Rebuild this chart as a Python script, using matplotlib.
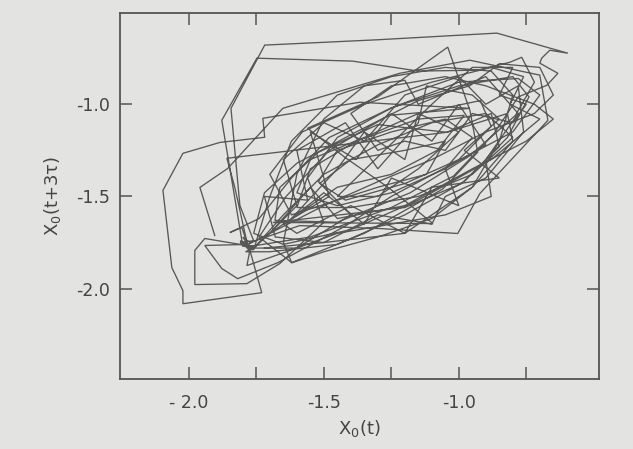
import matplotlib
matplotlib.use("Agg")
import matplotlib.pyplot as plt

# trajectory (x0(t), x0(t+3tau))
x0_t = [
    -1.904, -1.959, -1.856, -1.652, -1.219, -0.959, -0.700, -0.670, -0.922, -1.004, -1.293, -1.589, -1.774,
    -1.800, -1.770, -1.810, -1.760,
    -1.811, -1.844, -1.719, -1.300, -0.859, -0.596, -0.663, -0.693, -0.700, -0.633, -0.674, -0.780, -0.870, -1.020, -1.250, -1.550, -1.770,
    -1.941, -1.978, -1.978, -1.785, -1.663, -1.500, -1.560, -1.450, -1.250, -1.000, -0.800, -0.740, -0.820, -0.980, -1.200, -1.450, -1.700,
    -1.790, -1.750, -1.800,
    -1.878, -1.748, -1.393, -1.150, -0.930, -0.811, -0.767, -0.720, -0.790, -0.960, -1.180, -1.450, -1.681,
    -1.663, -1.520, -1.300, -1.044, -0.880, -0.850, -0.990, -1.200, -1.689, -1.096, -1.256, -1.420, -1.560, -1.300, -1.041, -0.959, -0.930, -1.060, -1.350, -1.619, -1.740,
    -1.640, -1.480, -1.260, -0.959, -1.367, -1.726, -1.719, -1.885, -2.022, -2.096, -2.063, -2.022, -2.022, -1.730, -1.780,
    -1.941, -1.878, -1.819, -1.670, -1.420, -1.250, -1.020, -0.800, -0.700, -0.780, -1.000, -1.250, -1.480, -1.620, -1.740,
    -1.848, -1.804, -1.774, -1.785, -1.600, -1.400,
    -1.520, -1.450, -1.250, -1.050, -0.950, -1.050, -1.250, -1.450,
    -1.600, -1.550, -1.350, -1.150, -0.920, -0.880, -1.000, -1.200, -1.420,
    -1.515, -1.400, -1.200, -1.050, -1.120, -1.300,
    -1.620, -1.700, -1.580, -1.350, -1.100, -0.880, -0.760, -0.810, -0.700, -0.880, -1.150, -1.400, -1.650,
    -1.760, -1.720, -1.600, -1.380, -1.150, -0.960, -0.850, -0.700, -0.650, -0.720, -0.900, -1.100, -1.300, -1.500, -1.700,
    -1.760, -1.810, -1.770, -1.795, -1.765,
    -1.650, -1.500, -1.300, -1.100, -0.900, -0.800, -0.950, -1.150, -1.400, -1.600,
    -1.550, -1.380, -1.150, -0.980, -1.080, -1.250, -1.450,
    -1.700, -1.600, -1.650, -1.500, -1.350, -1.200, -1.000, -0.900, -0.780, -0.760, -0.900, -1.050, -1.100, -1.300, -1.500, -1.680,
    -1.720, -1.560, -1.600, -1.420, -1.300, -1.150, -1.120, -0.950, -0.850, -0.980, -0.850, -1.100, -1.200, -1.400, -1.600,
    -1.650, -1.480, -1.550, -1.380, -1.250, -1.100, -1.000, -0.900, -1.050, -1.000, -1.250, -1.350, -1.500, -1.620,
    -1.450, -1.350, -1.200, -1.150, -1.000, -1.150, -1.300, -1.450,
    -1.100, -0.950, -0.800, -0.850, -0.750, -0.800, -0.950, -1.050, -1.200,
    -1.300, -1.400, -1.250, -1.050, -0.900, -0.720, -0.650, -0.750, -0.950, -1.200, -1.450, -1.550,
    -1.700, -1.780, -1.760,
    -1.700, -1.620, -1.450, -1.250, -1.050, -0.880, -0.800, -0.850, -0.950, -1.100, -1.300, -1.500, -1.619,
    -1.650, -1.600, -1.500, -1.350, -1.200, -1.150, -0.900, -0.780, -0.900, -0.880, -1.050, -1.250, -1.450, -1.600,
    -1.780, -1.830, -1.859, -1.044, -0.820, -0.800, -0.950, -1.200, -1.500, -1.720,
]
x0_t3tau = [
    -1.712, -1.451, -1.348, -1.022, -0.832, -0.761, -0.842, -1.087, -1.484, -1.701, -1.674, -1.658, -1.750,
    -1.720, -1.790, -1.750, -1.740,
    -1.549, -1.022, -0.679, -0.650, -0.614, -0.723, -0.707, -0.750, -0.777, -0.832, -0.897, -0.960, -1.160, -1.390, -1.560, -1.720, -1.770,
    -1.728, -1.793, -1.978, -1.973, -1.864, -1.640, -1.400, -1.180, -1.020, -0.900, -0.850, -0.960, -1.180, -1.420, -1.600, -1.760, -1.800,
    -1.800, -1.770, -1.770,
    -1.087, -0.750, -0.766, -0.820, -0.815, -0.772, -0.745, -0.880, -1.060, -1.280, -1.480, -1.640, -1.630,
    -1.451, -1.260, -1.110, -1.152, -1.050, -1.230, -1.430, -1.560, -1.641, -1.647, -1.457, -1.290, -1.130, -0.960, -0.690, -1.033, -1.260, -1.460, -1.700, -1.859, -1.720,
    -1.500, -1.250, -1.060, -1.022, -0.989, -1.076, -1.179, -1.207, -1.266, -1.467, -1.886, -2.011, -2.082, -2.022, -1.760,
    -1.766, -1.891, -1.946, -1.859, -1.660, -1.500, -1.320, -1.150, -0.950, -0.860, -0.880, -1.020, -1.180, -1.400, -1.620,
    -1.696, -1.668, -1.793, -1.875, -1.780, -1.600,
    -1.420, -1.250, -1.150, -1.080, -1.180, -1.350, -1.480, -1.550,
    -1.480, -1.300, -1.180, -1.050, -0.980, -1.120, -1.300, -1.430, -1.520,
    -1.429, -1.300, -1.250, -1.200, -1.380, -1.450,
    -1.600, -1.380, -1.150, -1.000, -0.880, -0.800, -0.850, -1.000, -1.080, -1.300, -1.520, -1.680, -1.760,
    -1.700, -1.480, -1.320, -1.150, -0.980, -0.900, -0.780, -0.800, -0.950, -1.050, -1.150, -1.300, -1.420, -1.550, -1.700,
    -1.780, -1.740, -1.800, -1.760, -1.790,
    -1.600, -1.380, -1.220, -1.100, -1.050, -1.180, -1.380, -1.500, -1.560, -1.560,
    -1.350, -1.200, -1.080, -1.060, -1.250, -1.380, -1.450,
    -1.700, -1.550, -1.300, -1.100, -1.200, -0.950, -0.850, -1.000, -0.900, -1.150, -1.400, -1.500, -1.650, -1.600, -1.750, -1.720,
    -1.500, -1.520, -1.250, -1.100, -1.350, -1.100, -0.900, -0.950, -1.080, -1.250, -1.400, -1.450, -1.700, -1.550, -1.700,
    -1.650, -1.500, -1.150, -1.300, -1.050, -1.200, -1.000, -1.220, -1.350, -1.550, -1.400, -1.650, -1.480, -1.620,
    -1.350, -1.150, -1.300, -1.050, -1.150, -1.350, -1.500, -1.500,
    -1.000, -0.800, -0.800, -0.950, -1.000, -1.100, -1.050, -1.250, -1.200,
    -1.250, -1.050, -0.900, -0.850, -0.900, -1.000, -1.080, -1.200, -1.350, -1.550, -1.620, -1.450,
    -1.700, -1.760, -1.790,
    -1.500, -1.200, -0.950, -0.850, -0.800, -0.820, -0.950, -1.200, -1.450, -1.620, -1.720, -1.800, -1.860,
    -1.750, -1.380, -1.080, -0.900, -0.870, -1.000, -0.850, -1.050, -1.300, -1.500, -1.600, -1.650, -1.700, -1.780,
    -1.780, -1.450, -1.293, -1.152, -1.050, -1.200, -1.450, -1.700, -1.750, -1.780,
]

x_ticks_bottom = [-2.0, -1.75, -1.5, -1.25, -1.0, -0.75]
x_tick_labels = ["- 2.0", "", "-1.5", "", "-1.0", ""]
x_ticks_top = [-2.0, -1.75, -1.25, -1.0, -0.75]
y_ticks = [-1.0, -1.5, -2.0]
y_tick_labels = ["-1.0", "-1.5", "-2.0"]

bg = "#e3e3e1"
ink = "#555555"

fig = plt.figure(figsize=(6.33, 4.49), dpi=100, facecolor=bg)
ax = fig.add_axes([0.1896, 0.156, 0.757, 0.815])
ax.set_facecolor(bg)

ax.plot(x0_t, x0_t3tau, color="#585858", lw=0.95, solid_joinstyle="miter")

ax.set_xlim(-2.255, -0.48)
ax.set_ylim(-2.49, -0.505)

ax.set_xticks(x_ticks_bottom)
ax.set_xticklabels(x_tick_labels)
ax.set_yticks(y_ticks)
ax.set_yticklabels(y_tick_labels)
ax.tick_params(axis="both", direction="in", length=8.5, width=1.1, color=ink,
               labelsize=12.5, labelcolor="#444444")
ax.tick_params(axis="x", pad=11)
ax.tick_params(axis="y", pad=7, right=True)

top = ax.secondary_xaxis("top")
top.set_xticks(x_ticks_top)
top.set_xticklabels([])
top.tick_params(direction="in", length=8.5, width=1.1, color=ink)
top.spines["top"].set_visible(False)

for s in ax.spines.values():
    s.set_color(ink)
    s.set_linewidth(1.3)

ax.set_xlabel("X$_0$(t)", fontsize=13, color="#444444", labelpad=4)
ax.set_ylabel("X$_0$(t+3τ)", fontsize=13, color="#444444", labelpad=10)

fig.savefig("out.png", dpi=100, facecolor=bg)
